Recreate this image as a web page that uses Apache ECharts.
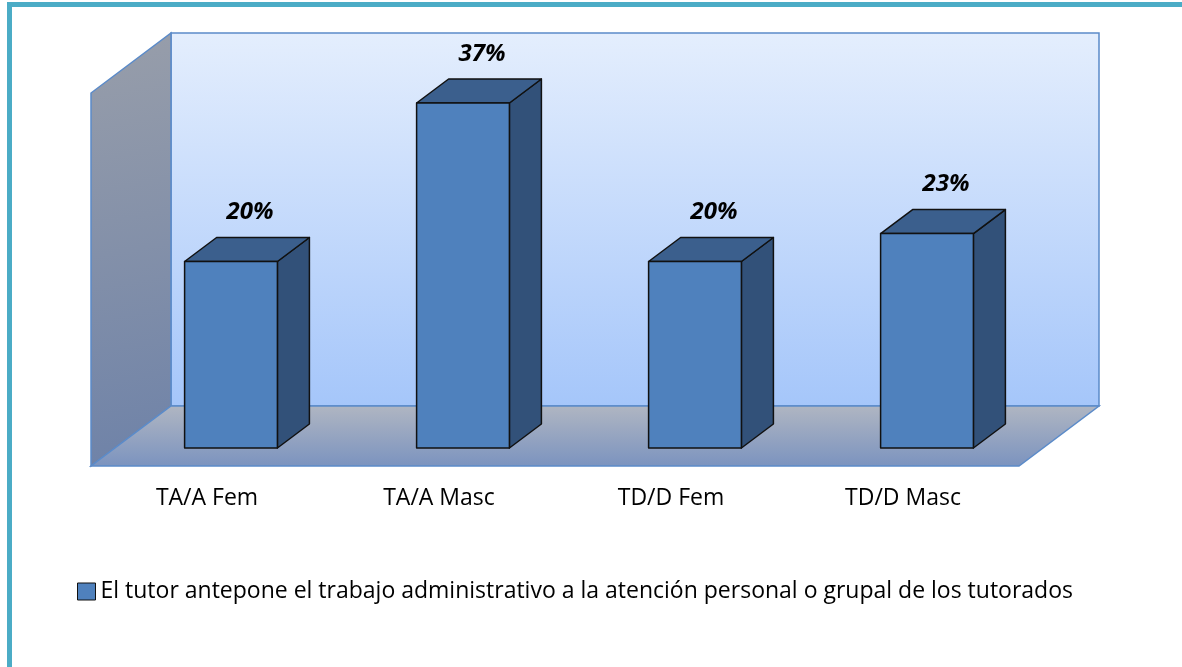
<!DOCTYPE html>
<html>
<head>
<meta charset="utf-8">
<script src="https://cdn.jsdelivr.net/npm/echarts@6/dist/echarts.min.js"></script>
<style>
html, body { margin: 0; padding: 0; background: #fff; }
#app { width: 1182px; height: 667px; }
</style>
</head>
<body>
<div id="app"></div>
<script>
const categories = ['TA/A Fem', 'TA/A Masc', 'TD/D Fem', 'TD/D Masc'];
const values = [20, 37, 20, 23];
const seriesName = 'El tutor antepone el trabajo administrativo a la atención personal o grupal de los tutorados';
const valueMax = 40;

// depth of the floor, front edge -> back wall; bars stand between 0.3 and 0.7 of it
const DEPTH = [80, -60];
const FRONT = -0.3, BACK = 0.7, BAR_DEPTH = 0.4;

const chart = echarts.init(document.getElementById('app'));

function shift(p, k) {
    return [p[0] + DEPTH[0] * k, p[1] + DEPTH[1] * k];
}

function grad(x2, y2, c1, c2) {
    return { type: 'linear', x: 0, y: 0, x2: x2, y2: y2, colorStops: [{ offset: 0, color: c1 }, { offset: 1, color: c2 }] };
}

function renderWalls(params, api) {
    const cs = params.coordSys;
    const x0 = cs.x, x1 = cs.x + cs.width;
    const yBase = api.coord([0, 0])[1];
    const yTop = api.coord([0, valueMax])[1];
    const bl = shift([x0, yBase], BACK), br = shift([x1, yBase], BACK);
    const tl = shift([x0, yTop], BACK), tr = shift([x1, yTop], BACK);
    const fl = shift([x0, yBase], FRONT), fr = shift([x1, yBase], FRONT);
    const ftl = shift([x0, yTop], FRONT);
    const edge = '#5B8BC9';
    return {
        type: 'group',
        children: [
            { type: 'polygon', shape: { points: [tl, tr, br, bl] },
              style: { fill: grad(0, 1, '#E4EEFD', '#A5C6FA'), stroke: edge, lineWidth: 1.5 } },
            { type: 'polygon', shape: { points: [ftl, tl, bl, fl] },
              style: { fill: grad(1, 1, '#989EAA', '#6E82A8'), stroke: edge, lineWidth: 1.5 } },
            { type: 'polygon', shape: { points: [bl, br, fr, fl] },
              style: { fill: grad(0, 1, '#B0B6C2', '#7B93BF'), stroke: edge, lineWidth: 1.5 } }
        ]
    };
}

function renderBar(params, api) {
    const i = api.value(0);
    const v = api.value(1);
    const top = api.coord([i, v]);
    const base = api.coord([i, 0]);
    const w = api.size([1, 0])[0] * 0.4;
    const xl = top[0] - w / 2, xr = top[0] + w / 2;
    const yt = top[1], yb = base[1];
    const dx = DEPTH[0] * BAR_DEPTH, dy = DEPTH[1] * BAR_DEPTH;
    const line = { stroke: '#111', lineWidth: 1.5, lineJoin: 'round' };
    return {
        type: 'group',
        children: [
            { type: 'polygon', shape: { points: [[xr, yt], [xr + dx, yt + dy], [xr + dx, yb + dy], [xr, yb]] },
              style: Object.assign({ fill: '#325179' }, line) },
            { type: 'polygon', shape: { points: [[xl, yt], [xl + dx, yt + dy], [xr + dx, yt + dy], [xr, yt]] },
              style: Object.assign({ fill: '#3B5F8D' }, line) },
            { type: 'rect', shape: { x: xl, y: yt, width: w, height: yb - yt },
              style: Object.assign({ fill: '#4F81BD' }, line) },
            { type: 'text', x: top[0] + 19, y: yt - 49,
              style: { text: v + '%', font: 'italic bold 24px "Open Sans"', fill: '#000', align: 'center', verticalAlign: 'middle' } }
        ]
    };
}

const option = {
    animation: false,
    graphic: [{
        type: 'rect', z: 100,
        shape: { x: 9.5, y: 4.5, width: 1400, height: 900 },
        style: { fill: 'none', stroke: '#4BACC6', lineWidth: 5 }
    }],
    grid: { left: 115, right: 139, top: 75, bottom: 219 },
    xAxis: {
        type: 'category',
        data: categories,
        axisLine: { show: false },
        axisTick: { show: false },
        axisLabel: { fontSize: 23, fontFamily: 'Open Sans', color: '#000', margin: 39, padding: [0, 48, 0, 0] }
    },
    yAxis: { type: 'value', min: 0, max: valueMax, show: false, splitLine: { show: false } },
    legend: {
        left: 77, top: 580, padding: 0,
        itemWidth: 18, itemHeight: 17,
        textStyle: { fontSize: 23, fontFamily: 'Open Sans', color: '#000' },
        data: [{ name: seriesName, icon: 'rect', itemStyle: { color: '#4F81BD', borderColor: '#111', borderWidth: 1 } }]
    },
    series: [
        { type: 'custom', silent: true, z: 1, renderItem: renderWalls, data: [[0, valueMax]] },
        {
            type: 'custom', name: seriesName, z: 2,
            itemStyle: { color: '#4F81BD' },
            renderItem: renderBar,
            data: values.map((v, i) => [i, v])
        }
    ]
};

chart.setOption(option);
</script>
</body>
</html>
